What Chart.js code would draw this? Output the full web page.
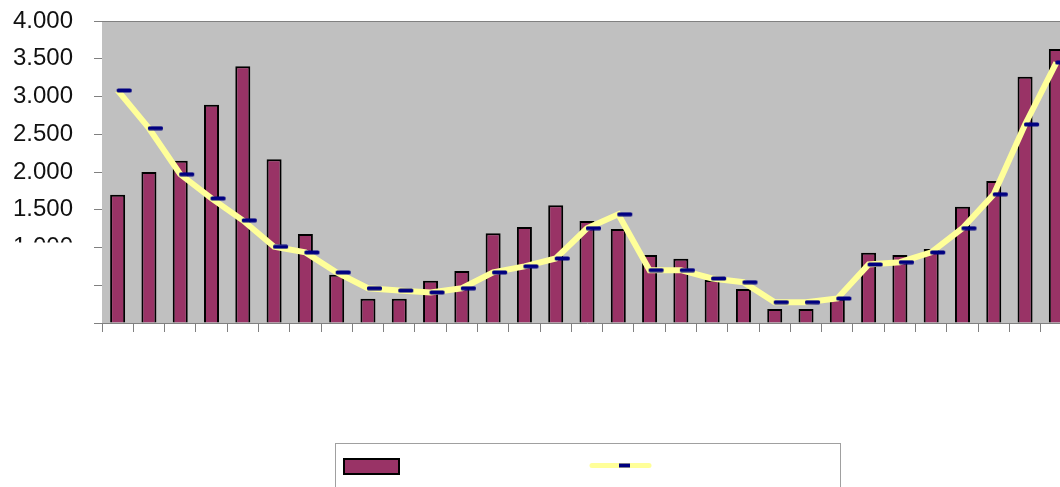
<!DOCTYPE html>
<html>
<head>
<meta charset="utf-8">
<script src="https://cdn.jsdelivr.net/npm/chart.js@4"></script>
<style>
  html, body { margin: 0; padding: 0; background: #fff; overflow: hidden; }
  #wrap { position: relative; width: 1086px; height: 487px; }
</style>
</head>
<body>
<div id="wrap"><canvas id="chart"></canvas></div>
<script>
// monthly totals (bars) and running mean (line)
const categories = ['1', '2', '3', '4', '5', '6', '7', '8', '9', '10', '11', '12', '13', '14', '15', '16',
  '17', '18', '19', '20', '21', '22', '23', '24', '25', '26', '27', '28', '29', '30', '31'];
const barValues = [1700, 2000, 2150, 2890, 3400, 2170, 1180, 640, 320, 320, 560, 690, 1190, 1270, 1560, 1350,
  1245, 900, 850, 570, 450, 185, 185, 320, 930, 900, 980, 1540, 1880, 3260, 3630];
const lineValues = [3080, 2580, 1970, 1650, 1360, 1010, 935, 670, 460, 430, 405, 460, 670, 750, 855, 1255,
  1440, 700, 700, 590, 540, 275, 275, 325, 775, 805, 935, 1255, 1705, 2630, 3450];
const yTicks = [0, 500, 1000, 1500, 2000, 2500, 3000, 3500, 4000];

const barColor = '#993366';
const lineColor = '#FFFF99';
const markColor = '#000080';
const axisColor = '#808080';

// dash marker that starts at the point and runs to the right
const dash = document.createElement('canvas');
dash.width = 30;
dash.height = 5;
(function () {
  const c = dash.getContext('2d');
  c.fillStyle = markColor;
  c.beginPath();
  c.roundRect(14, 0.5, 15, 4, 1.5);
  c.fill();
})();

const plotFrame = {
  id: 'plotFrame',
  beforeDatasetsDraw(chart) {
    const { ctx, chartArea: a } = chart;
    ctx.save();
    ctx.fillStyle = '#C0C0C0';
    ctx.fillRect(a.left, a.top, a.right - a.left, a.bottom - a.top);
    ctx.strokeStyle = axisColor;
    ctx.lineWidth = 1;
    ctx.beginPath();
    ctx.moveTo(a.left, a.top + 0.5);
    ctx.lineTo(a.right, a.top + 0.5);
    ctx.stroke();
    ctx.restore();
  },
  afterDraw(chart) {
    const { ctx } = chart;
    const y = chart.scales.y;
    // lower tick labels sit under a white strip
    ctx.save();
    ctx.fillStyle = '#fff';
    const top = y.getPixelForValue(1000) - 5;
    ctx.fillRect(0, top, y.right - 10, chart.height - top);

    // legend box
    ctx.strokeStyle = '#a0a0a0';
    ctx.lineWidth = 1;
    ctx.strokeRect(335.5, 443.5, 505, 60);
    ctx.fillStyle = barColor;
    ctx.fillRect(344, 459, 55, 15);
    ctx.strokeStyle = '#000';
    ctx.lineWidth = 2;
    ctx.strokeRect(344, 459, 55, 15);
    ctx.strokeStyle = lineColor;
    ctx.lineWidth = 5;
    ctx.lineCap = 'round';
    ctx.beginPath();
    ctx.moveTo(592, 465.5);
    ctx.lineTo(649, 465.5);
    ctx.stroke();
    ctx.fillStyle = markColor;
    ctx.fillRect(619, 463.5, 11, 4);
    ctx.restore();
  }
};

new Chart(document.getElementById('chart'), {
  data: {
    labels: categories,
    datasets: [
      {
        type: 'line',
        data: lineValues,
        borderColor: lineColor,
        borderWidth: 6,
        tension: 0,
        pointStyle: dash,
        pointRadius: 8,
        order: 0
      },
      {
        type: 'bar',
        data: barValues,
        backgroundColor: barColor,
        borderColor: '#000',
        borderWidth: 2,
        barPercentage: 0.48,
        categoryPercentage: 1,
        order: 1
      }
    ]
  },
  options: {
    responsive: true,
    maintainAspectRatio: false,
    animation: false,
    layout: { padding: { top: 21, left: 0, right: 0, bottom: 0 } },
    plugins: {
      legend: { display: false },
      tooltip: { enabled: false }
    },
    scales: {
      x: {
        offset: true,
        grid: {
          offset: true,
          drawOnChartArea: false,
          drawTicks: true,
          tickLength: 9,
          color: axisColor
        },
        border: { color: axisColor },
        ticks: { display: false },
        afterFit(scale) { scale.height = 164; }
      },
      y: {
        min: 0,
        max: 4000,
        afterBuildTicks(scale) { scale.ticks = yTicks.map(v => ({ value: v })); },
        grid: {
          drawOnChartArea: false,
          drawTicks: true,
          tickLength: 8,
          color: axisColor
        },
        border: { color: axisColor },
        ticks: {
          padding: 21,
          color: '#111',
          font: { family: 'Liberation Sans, Arial, sans-serif', size: 24 },
          callback: v => v.toLocaleString('de-DE')
        },
        afterFit(scale) {
          scale.width = 102;
          scale.paddingTop = 0;
          scale.paddingBottom = 0;
        }
      }
    }
  },
  plugins: [plotFrame]
});
</script>
</body>
</html>
